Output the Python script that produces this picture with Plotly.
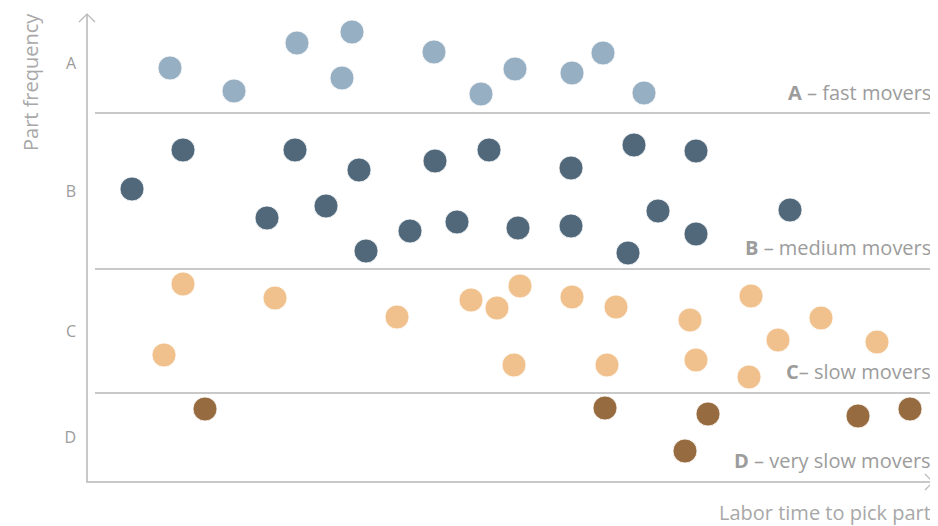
import plotly.graph_objects as go

# Labor time (x) and part frequency score (y) for each class
a_x = [83, 147, 210, 265, 255, 347, 394, 428, 485, 516, 557]
a_y = [414, 391, 439, 450, 404, 430, 388, 413, 409, 429, 389]

b_x = [45, 96, 208, 180, 239, 272, 279, 323, 348, 370, 402, 431, 484, 484, 541, 547, 571, 609, 609, 703]
b_y = [293, 332, 332, 264, 276, 312, 231, 251, 321, 260, 332, 254, 314, 256, 229, 337, 271, 331, 248, 272]

c_x = [96, 77, 188, 310, 384, 410, 433, 427, 485, 529, 520, 603, 609, 664, 662, 691, 734, 790]
c_y = [198, 127, 184, 165, 182, 174, 196, 117, 185, 175, 117, 162, 122, 186, 105, 142, 164, 140]

d_x = [118, 518, 621, 598, 771, 823]
d_y = [73, 74, 68, 31, 66, 73]

class_names = ["A", "B", "C", "D"]
class_tick_y = [419, 291, 151, 45]
class_bounds = [369, 213, 89]
class_labels = ["<b>A</b> – fast movers", "<b>B</b> – medium movers",
                "<b>C</b>– slow movers", "<b>D</b> – very slow movers"]
class_label_y = [390, 235, 111, 22]

colors = ["#97afc3", "#51687a", "#f0c18c", "#966b40"]
FONT = "Open Sans"
GRAY = "#9c9c9c"
LINE = "#b7b7b7"

fig = go.Figure()
for xs, ys, col, name in zip([a_x, b_x, c_x, d_x], [a_y, b_y, c_y, d_y], colors, class_names):
    fig.add_trace(go.Scatter(
        x=xs, y=ys, mode="markers", name=name,
        marker=dict(size=24, color=col, line=dict(width=0.8, color="white")),
        showlegend=False, hoverinfo="skip", cliponaxis=False,
    ))

shapes = []
# class boundaries
for yb in class_bounds:
    shapes.append(dict(type="line", xref="x", yref="y", x0=8, x1=846, y0=yb, y1=yb,
                       line=dict(color=LINE, width=1.5), layer="below"))
# axes with open arrowheads
shapes.append(dict(type="path", xref="x", yref="y",
                   path="M 0,468 L 0,0 L 846,0", line=dict(color=LINE, width=1.5), layer="below"))
shapes.append(dict(type="path", xref="x", yref="y",
                   path="M -8,460 L 0,468 L 8,460", line=dict(color=LINE, width=1.2), layer="below"))
shapes.append(dict(type="path", xref="x", yref="y",
                   path="M 838,8 L 846,0 L 838,-8", line=dict(color=LINE, width=1.2), layer="below"))

annotations = []
for txt, yy in zip(class_labels, class_label_y):
    annotations.append(dict(x=846, y=yy, xref="x", yref="y", text=txt, showarrow=False,
                            xanchor="right", yanchor="middle",
                            font=dict(family=FONT, size=20, color=GRAY)))
annotations.append(dict(x=-57, y=400, xref="x", yref="y", text="Part frequency", showarrow=False,
                        textangle=-90, xanchor="center", yanchor="middle",
                        font=dict(family=FONT, size=20, color="#a8a8a8")))
annotations.append(dict(x=846, y=-30, xref="x", yref="y", text="Labor time to pick part", showarrow=False,
                        xanchor="right", yanchor="middle",
                        font=dict(family=FONT, size=20, color="#a8a8a8")))

# The page body has an 8px margin, so the figure is 930x518 placed at (8, 8)
fig.update_layout(
    width=930, height=518,
    margin=dict(l=0, r=0, t=0, b=0),
    paper_bgcolor="white", plot_bgcolor="white",
    xaxis=dict(range=[-79, 851], visible=False, fixedrange=True),
    yaxis=dict(range=[-44, 474], anchor="free", position=79 / 930,
               showgrid=False, zeroline=False, showline=False,
               tickmode="array", tickvals=class_tick_y, ticktext=class_names,
               ticks="", ticklabelstandoff=11,
               tickfont=dict(family=FONT, size=16, color=GRAY), fixedrange=True),
    shapes=shapes, annotations=annotations,
)

fig.write_html("out.html")
